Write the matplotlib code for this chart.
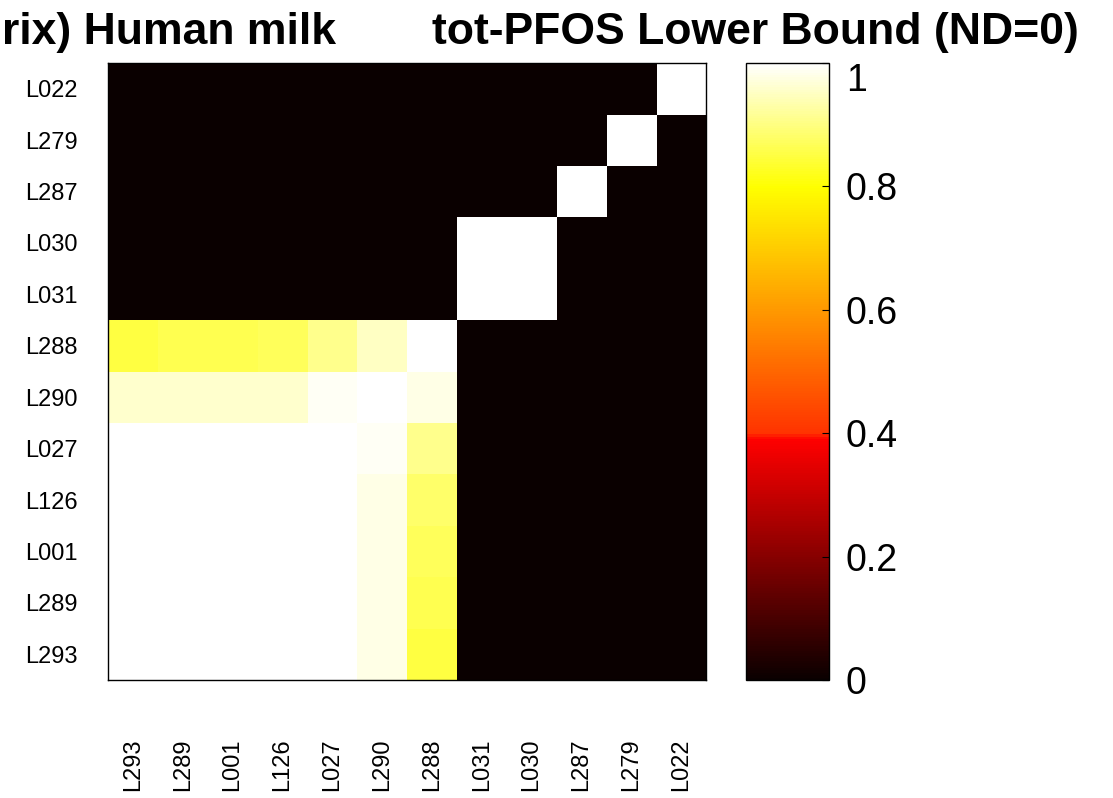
import numpy as np
import matplotlib
matplotlib.use("Agg")
from matplotlib import pyplot as plt
from matplotlib.colors import LinearSegmentedColormap

plt.rcParams["font.family"] = ["Liberation Sans", "DejaVu Sans"]

# sample order, left to right on x (bottom to top on y)
samples = ["L293", "L289", "L001", "L126", "L027", "L290", "L288",
           "L031", "L030", "L287", "L279", "L022"]

# correlation matrix, rows/cols in the order of `samples`
corr = [
    [1.00, 1.00, 1.00, 1.00, 1.00, 0.98, 0.85, 0, 0, 0, 0, 0],
    [1.00, 1.00, 1.00, 1.00, 1.00, 0.98, 0.86, 0, 0, 0, 0, 0],
    [1.00, 1.00, 1.00, 1.00, 1.00, 0.98, 0.87, 0, 0, 0, 0, 0],
    [1.00, 1.00, 1.00, 1.00, 1.00, 0.98, 0.88, 0, 0, 0, 0, 0],
    [1.00, 1.00, 1.00, 1.00, 1.00, 0.99, 0.91, 0, 0, 0, 0, 0],
    [0.96, 0.96, 0.96, 0.96, 0.99, 1.00, 0.98, 0, 0, 0, 0, 0],
    [0.85, 0.86, 0.86, 0.87, 0.91, 0.95, 1.00, 0, 0, 0, 0, 0],
    [0, 0, 0, 0, 0, 0, 0, 1.00, 1.00, 0, 0, 0],
    [0, 0, 0, 0, 0, 0, 0, 1.00, 1.00, 0, 0, 0],
    [0, 0, 0, 0, 0, 0, 0, 0, 0, 1.00, 0, 0],
    [0, 0, 0, 0, 0, 0, 0, 0, 0, 0, 1.00, 0],
    [0, 0, 0, 0, 0, 0, 0, 0, 0, 0, 0, 1.00],
]
cbar_ticks = [0, 0.2, 0.4, 0.6, 0.8, 1]
cbar_labels = ["0", "0.2", "0.4", "0.6", "0.8", "1"]

# hot-like map: black -> red -> yellow -> white
hot_like = LinearSegmentedColormap.from_list(
    "hot_like",
    [(0.0, (0.04, 0.0, 0.0)), (0.39, (1.0, 0.0, 0.0)),
     (0.40, (1.0, 0.2, 0.0)), (0.80, (1.0, 1.0, 0.0)),
     (1.0, (1.0, 1.0, 1.0))],
    N=256,
)

fig = plt.figure(figsize=(11.13, 7.98), dpi=100)
ax = fig.add_axes([108 / 1113, 118 / 798, 598 / 1113, 617 / 798])
cax = fig.add_axes([746 / 1113, 118 / 798, 83 / 1113, 617 / 798])

im = ax.imshow(np.array(corr), cmap=hot_like, vmin=0, vmax=1, origin="lower",
               aspect="auto", interpolation="nearest")
n = len(samples)
ax.set_xticks(range(n))
ax.set_xticklabels(samples, rotation=90, fontsize=17)
ax.set_yticks(range(n))
ax.set_yticklabels(samples, fontsize=17)
ax.tick_params(axis="x", length=0, pad=42)
ax.tick_params(axis="y", length=0, pad=22)
for s in ax.spines.values():
    s.set_linewidth(1.0)

cb = fig.colorbar(im, cax=cax, ticks=cbar_ticks)
cb.ax.set_yticklabels(cbar_labels)
cb.ax.tick_params(labelsize=27, direction="in", length=5, pad=12)
cb.outline.set_linewidth(1.0)
# keep the top label clear of the title
cb.ax.get_yticklabels()[-1].set_va("top")

fig.text(2 / 1113, 1 - 44 / 798, "rix) Human milk", fontsize=32,
         fontweight="bold", ha="left", va="baseline")
fig.text(432 / 1113, 1 - 44 / 798, "tot-PFOS Lower Bound (ND=0)", fontsize=32,
         fontweight="bold", ha="left", va="baseline")

fig.savefig("out.png", dpi=100, facecolor="white")
plt.close(fig)
